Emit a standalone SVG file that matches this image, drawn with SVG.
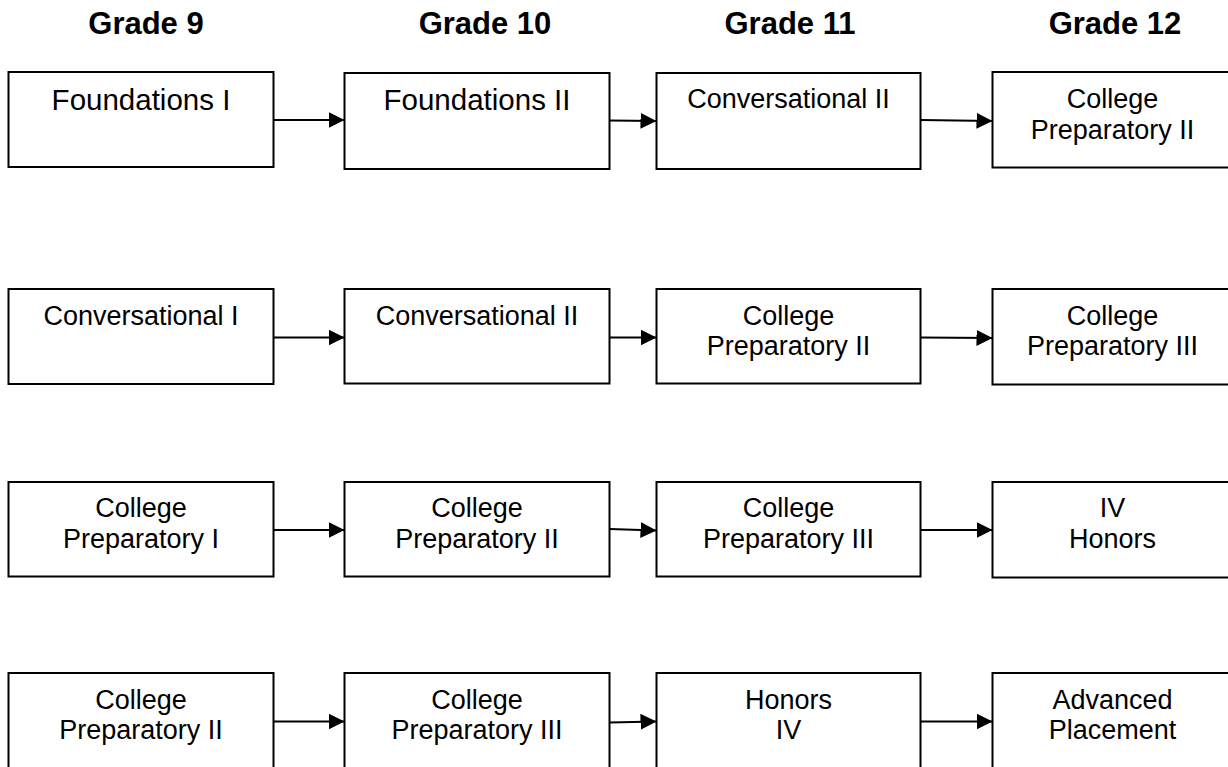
<svg xmlns="http://www.w3.org/2000/svg" width="1228" height="767" viewBox="0 0 1228 767">
<style>
.box{fill:#fff;stroke:#000;stroke-width:2}
.t{font-family:"Liberation Sans",Arial,sans-serif;font-size:27px;fill:#000;text-anchor:middle}
.big{font-size:29.5px}
.h{font-family:"Liberation Sans",Arial,sans-serif;font-size:31px;font-weight:bold;fill:#000;text-anchor:middle}
.c{fill:none;stroke:#000;stroke-width:2;marker-end:url(#ah)}
</style>
<defs>
<marker id="ah" markerUnits="userSpaceOnUse" markerWidth="17" markerHeight="17" refX="16" refY="8" orient="auto">
<path d="M0,0 L16,8 L0,16 z" fill="#000"/>
</marker>
</defs>
<rect width="1228" height="767" fill="#fff"/>
<g id="headers">
<text class="h" x="146" y="34">Grade 9</text>
<text class="h" x="485" y="34">Grade 10</text>
<text class="h" x="790" y="34">Grade 11</text>
<text class="h" x="1115" y="34">Grade 12</text>
</g>
<g id="connectors">
<path class="c" d="M273.5,120 L344.5,120"/>
<path class="c" d="M609.5,120.5 L656.5,121"/>
<path class="c" d="M920.5,120 L992.5,121"/>
<path class="c" d="M273.5,337.5 L344.5,337.5"/>
<path class="c" d="M609.5,337.5 L656.5,337.5"/>
<path class="c" d="M920.5,337.5 L992.5,338"/>
<path class="c" d="M273.5,530 L344.5,530"/>
<path class="c" d="M609.5,529 L656.5,530.5"/>
<path class="c" d="M920.5,530 L992.5,530"/>
<path class="c" d="M273.5,721.5 L344.5,721.5"/>
<path class="c" d="M609.5,722.5 L656.5,721.5"/>
<path class="c" d="M920.5,721.5 L992.5,721.5"/>
</g>
<g id="r1c1"><rect class="box" x="8.5" y="72" width="265" height="95"/><text class="t big" x="141" y="110">Foundations I</text></g>
<g id="r1c2"><rect class="box" x="344.5" y="73" width="265" height="96"/><text class="t big" x="477" y="110">Foundations II</text></g>
<g id="r1c3"><rect class="box" x="656.5" y="73" width="264" height="96"/><text class="t" x="788.5" y="108">Conversational II</text></g>
<g id="r1c4"><rect class="box" x="992.5" y="72" width="240" height="95.5"/><text class="t" x="1112.5" y="108">College</text><text class="t" x="1112.5" y="138.5">Preparatory II</text></g>
<g id="r2c1"><rect class="box" x="8.5" y="289" width="265" height="95"/><text class="t" x="141" y="325">Conversational I</text></g>
<g id="r2c2"><rect class="box" x="344.5" y="289" width="265" height="94.5"/><text class="t" x="477" y="324.5">Conversational II</text></g>
<g id="r2c3"><rect class="box" x="656.5" y="289" width="264" height="94.5"/><text class="t" x="788.5" y="325">College</text><text class="t" x="788.5" y="355">Preparatory II</text></g>
<g id="r2c4"><rect class="box" x="992.5" y="289" width="240" height="95.5"/><text class="t" x="1112.5" y="325">College</text><text class="t" x="1112.5" y="355">Preparatory III</text></g>
<g id="r3c1"><rect class="box" x="8.5" y="482" width="265" height="94.5"/><text class="t" x="141" y="517">College</text><text class="t" x="141" y="547.5">Preparatory I</text></g>
<g id="r3c2"><rect class="box" x="344.5" y="482" width="265" height="94.5"/><text class="t" x="477" y="517">College</text><text class="t" x="477" y="547.5">Preparatory II</text></g>
<g id="r3c3"><rect class="box" x="656.5" y="482" width="264" height="94.5"/><text class="t" x="788.5" y="517">College</text><text class="t" x="788.5" y="547.5">Preparatory III</text></g>
<g id="r3c4"><rect class="box" x="992.5" y="482" width="240" height="95.5"/><text class="t" x="1112.5" y="517">IV</text><text class="t" x="1112.5" y="547.5">Honors</text></g>
<g id="r4c1"><rect class="box" x="8.5" y="673" width="265" height="100"/><text class="t" x="141" y="709">College</text><text class="t" x="141" y="738.5">Preparatory II</text></g>
<g id="r4c2"><rect class="box" x="344.5" y="673" width="265" height="100"/><text class="t" x="477" y="708.5">College</text><text class="t" x="477" y="739">Preparatory III</text></g>
<g id="r4c3"><rect class="box" x="656.5" y="673" width="264" height="100"/><text class="t" x="788.5" y="709">Honors</text><text class="t" x="788.5" y="739">IV</text></g>
<g id="r4c4"><rect class="box" x="992.5" y="673" width="240" height="100"/><text class="t" x="1112.5" y="709">Advanced</text><text class="t" x="1112.5" y="739">Placement</text></g>
</svg>
